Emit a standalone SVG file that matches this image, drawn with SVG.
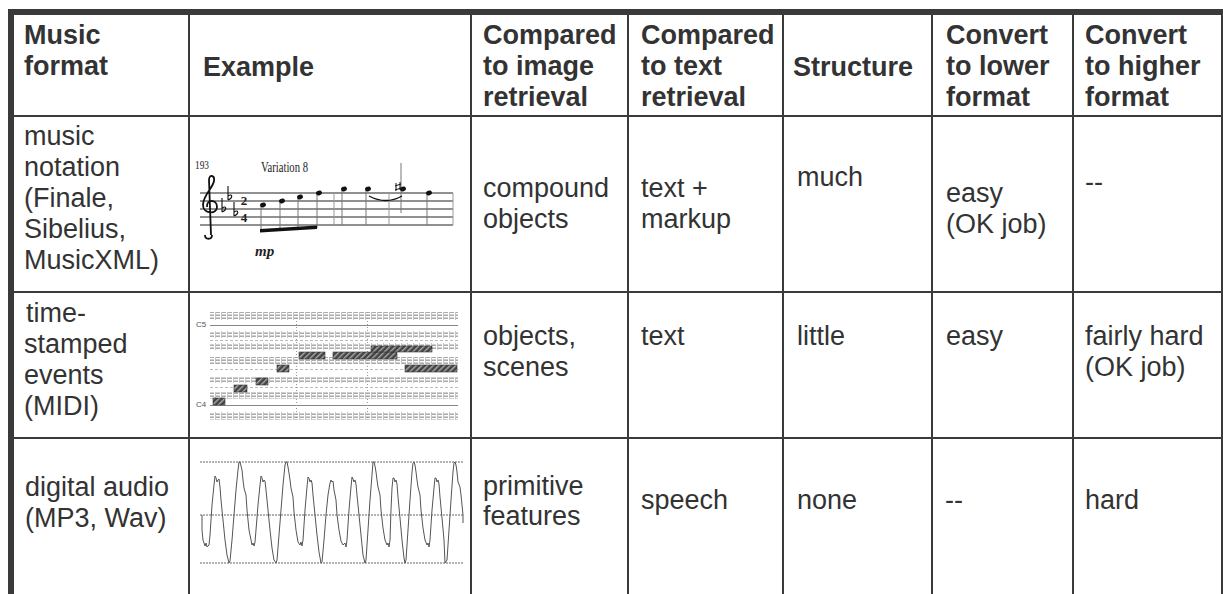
<svg xmlns="http://www.w3.org/2000/svg" width="1223" height="594" viewBox="0 0 1223 594">
  <defs>
    <style>
      .h { font-family: "Liberation Sans", Arial, sans-serif; font-size: 27px; font-weight: bold; fill: #333; }
      .t { font-family: "Liberation Sans", Arial, sans-serif; font-size: 27px; fill: #333; }
      .rule { fill: #3a3a3a; }
      .serif { font-family: "Liberation Serif", "Times New Roman", serif; fill: #222; }
      .staff { stroke: #222; stroke-width: 1; }
      .stem { stroke: #777; stroke-width: 1; }
      .bar { stroke: #999; stroke-width: 1; }
      .head { fill: #111; }
      .lbl { font-family: "Liberation Sans", Arial, sans-serif; font-size: 8px; fill: #555; }
      .dots { stroke: #666; stroke-width: 1; stroke-dasharray: 2 1; }
    </style>
    <!-- light dotted texture used for piano-roll rows -->
    <pattern id="roll" width="6" height="3" patternUnits="userSpaceOnUse">
      <rect x="0" y="0" width="4" height="1" fill="#aaa"/>
      <rect x="5" y="0" width="1" height="3" fill="#c4c4c4"/>
      <rect x="0" y="2" width="4" height="1" fill="#d0d0d0"/>
    </pattern>
    <!-- hatched fill for MIDI note events -->
    <pattern id="hatch" width="4" height="4" patternUnits="userSpaceOnUse" patternTransform="rotate(45)">
      <rect width="4" height="4" fill="#444"/>
      <rect width="1.4" height="4" fill="#aaa"/>
    </pattern>
  </defs>

  <rect width="1223" height="594" fill="#fff"/>

  <!-- table rules -->
  <g id="grid">
    <rect class="rule" x="8" y="9" width="1215" height="6"/>
    <rect class="rule" x="8" y="9" width="6" height="585"/>
    <rect class="rule" x="188" y="15" width="2" height="579"/>
    <rect class="rule" x="470" y="15" width="2" height="579"/>
    <rect class="rule" x="627" y="15" width="2" height="579"/>
    <rect class="rule" x="782" y="15" width="2" height="579"/>
    <rect class="rule" x="931" y="15" width="2" height="579"/>
    <rect class="rule" x="1072" y="15" width="2" height="579"/>
    <rect class="rule" x="1221" y="15" width="2" height="579"/>
    <rect class="rule" x="14" y="115" width="1209" height="2"/>
    <rect class="rule" x="14" y="291" width="1209" height="2"/>
    <rect class="rule" x="14" y="437" width="1209" height="2"/>
  </g>

  <!-- header row -->
  <g id="header">
    <text class="h" x="24" y="44">Music</text>
    <text class="h" x="24" y="75">format</text>
    <text class="h" x="203" y="76">Example</text>
    <text class="h" x="483" y="44">Compared</text>
    <text class="h" x="483" y="75">to image</text>
    <text class="h" x="483" y="106">retrieval</text>
    <text class="h" x="641" y="44">Compared</text>
    <text class="h" x="641" y="75">to text</text>
    <text class="h" x="641" y="106">retrieval</text>
    <text class="h" x="793" y="76">Structure</text>
    <text class="h" x="946" y="44">Convert</text>
    <text class="h" x="946" y="75">to lower</text>
    <text class="h" x="946" y="106">format</text>
    <text class="h" x="1085" y="44">Convert</text>
    <text class="h" x="1085" y="75">to higher</text>
    <text class="h" x="1085" y="106">format</text>
  </g>

  <!-- row: music notation -->
  <g id="row-notation">
    <text class="t" x="24" y="145">music</text>
    <text class="t" x="24" y="176">notation</text>
    <text class="t" x="24" y="207">(Finale,</text>
    <text class="t" x="24" y="238">Sibelius,</text>
    <text class="t" x="24" y="269">MusicXML)</text>
    <text class="t" x="483" y="197">compound</text>
    <text class="t" x="483" y="228">objects</text>
    <text class="t" x="641" y="197">text +</text>
    <text class="t" x="641" y="228">markup</text>
    <text class="t" x="797" y="186">much</text>
    <text class="t" x="946" y="202">easy</text>
    <text class="t" x="946" y="233">(OK job)</text>
    <text class="t" x="1085" y="191">--</text>
  </g>

  <!-- score excerpt -->
  <g id="score">
    <text class="serif" x="195" y="169" font-size="12" textLength="14" lengthAdjust="spacingAndGlyphs">193</text>
    <text class="serif" x="261" y="172" font-size="14" textLength="47" lengthAdjust="spacingAndGlyphs">Variation 8</text>
    <g class="staff">
      <line x1="200" y1="193" x2="453" y2="193"/>
      <line x1="200" y1="201" x2="453" y2="201"/>
      <line x1="200" y1="209" x2="453" y2="209"/>
      <line x1="200" y1="217" x2="453" y2="217"/>
      <line x1="200" y1="225" x2="453" y2="225"/>
    </g>
    <!-- treble clef -->
    <path d="M212,235 C212,240 205,240 205,235 M211,235 L209,180 C209,174 215,175 214,181 C213,188 203,195 203,205 C203,214 217,215 217,207 C217,199 206,199 207,207" fill="none" stroke="#111" stroke-width="1.8"/>
    <!-- key signature -->
    <g fill="none" stroke="#111" stroke-width="1.1">
      <path d="M222,198 L222,212 M222,208 C227,205 227,210 222,212"/>
      <path d="M228,186 L228,200 M228,196 C233,193 233,198 228,200"/>
      <path d="M234,202 L234,216 M234,212 C239,209 239,214 234,216"/>
    </g>
    <text class="serif" x="244" y="205" font-size="13" font-weight="bold" text-anchor="middle">2</text>
    <text class="serif" x="244" y="222" font-size="13" font-weight="bold" text-anchor="middle">4</text>
    <!-- stems and beam -->
    <g class="stem">
      <line x1="261" y1="205" x2="261" y2="231"/>
      <line x1="280" y1="201" x2="280" y2="230"/>
      <line x1="298" y1="197" x2="298" y2="229"/>
      <line x1="317" y1="193" x2="317" y2="228"/>
      <line x1="342" y1="189" x2="342" y2="225"/>
      <line x1="366" y1="189" x2="366" y2="225"/>
      <line x1="401" y1="163" x2="401" y2="213"/>
      <line x1="427" y1="193" x2="427" y2="225"/>
    </g>
    <polygon points="260,229 317,225.5 317,229 260,232.5" fill="#111"/>
    <g class="bar">
      <line x1="334" y1="193" x2="334" y2="225"/>
      <line x1="389" y1="193" x2="389" y2="225"/>
      <line x1="453" y1="193" x2="453" y2="225"/>
    </g>
    <g class="head">
      <ellipse cx="263" cy="205" rx="3" ry="2.3" transform="rotate(-20 263 205)"/>
      <ellipse cx="282" cy="201" rx="3" ry="2.3" transform="rotate(-20 282 201)"/>
      <ellipse cx="300" cy="197" rx="3" ry="2.3" transform="rotate(-20 300 197)"/>
      <ellipse cx="319" cy="193" rx="3" ry="2.3" transform="rotate(-20 319 193)"/>
      <ellipse cx="344" cy="189" rx="3" ry="2.3" transform="rotate(-20 344 189)"/>
      <ellipse cx="368" cy="189" rx="3" ry="2.3" transform="rotate(-20 368 189)"/>
      <ellipse cx="403" cy="189" rx="3" ry="2.3" transform="rotate(-20 403 189)"/>
      <ellipse cx="429" cy="193" rx="3" ry="2.3" transform="rotate(-20 429 193)"/>
    </g>
    <path d="M369,196 Q386,205 402,196" fill="none" stroke="#111" stroke-width="1.4"/>
    <path d="M395,186 L401,184 M395,190 L401,188 M396,183 L396,191 M400,182 L400,190" stroke="#111" stroke-width="1"/>
    <text class="serif" x="255" y="256" font-size="15" font-weight="bold" font-style="italic">mp</text>
  </g>

  <!-- row: MIDI events -->
  <g id="row-midi">
    <text class="t" x="26" y="322">time-</text>
    <text class="t" x="24" y="353">stamped</text>
    <text class="t" x="24" y="384">events</text>
    <text class="t" x="24" y="415">(MIDI)</text>
    <text class="t" x="483" y="345">objects,</text>
    <text class="t" x="483" y="376">scenes</text>
    <text class="t" x="641" y="345">text</text>
    <text class="t" x="797" y="345">little</text>
    <text class="t" x="946" y="345">easy</text>
    <text class="t" x="1085" y="345">fairly hard</text>
    <text class="t" x="1085" y="376">(OK job)</text>
  </g>

  <!-- piano roll -->
  <g id="pianoroll">
    <text class="lbl" x="196" y="327">C5</text>
    <text class="lbl" x="196" y="407">C4</text>
    <g fill="url(#roll)">
      <rect x="210" y="312" width="248" height="8"/>
      <rect x="210" y="331" width="248" height="7"/>
      <rect x="210" y="343" width="248" height="7"/>
      <rect x="210" y="357" width="248" height="7"/>
      <rect x="210" y="377" width="248" height="6"/>
      <rect x="210" y="392" width="248" height="7"/>
      <rect x="210" y="412" width="248" height="8"/>
    </g>
    <g stroke="#bbb" stroke-width="1" stroke-dasharray="3 2">
      <line x1="210" y1="340.5" x2="458" y2="340.5"/>
      <line x1="210" y1="369.5" x2="458" y2="369.5"/>
      <line x1="210" y1="387.5" x2="458" y2="387.5"/>
    </g>
    <g stroke="#888" stroke-width="1">
      <line x1="210" y1="325.5" x2="458" y2="325.5"/>
      <line x1="210" y1="405.5" x2="458" y2="405.5"/>
    </g>
    <g stroke="#999" stroke-width="1" stroke-dasharray="1 2">
      <line x1="296.5" y1="312" x2="296.5" y2="420"/>
      <line x1="367.5" y1="312" x2="367.5" y2="420"/>
    </g>
    <g fill="url(#hatch)" stroke="#333" stroke-width="0.6">
      <rect x="213" y="398" width="12" height="7"/>
      <rect x="234" y="385" width="13" height="7"/>
      <rect x="256" y="378" width="12" height="7"/>
      <rect x="277" y="365" width="12" height="7"/>
      <rect x="299" y="352" width="26" height="7"/>
      <rect x="333" y="352" width="64" height="7"/>
      <rect x="371" y="346" width="61" height="6"/>
      <rect x="405" y="365" width="52" height="7"/>
    </g>
  </g>

  <!-- row: digital audio -->
  <g id="row-audio">
    <text class="t" x="25" y="496">digital audio</text>
    <text class="t" x="25" y="527">(MP3, Wav)</text>
    <text class="t" x="483" y="495">primitive</text>
    <text class="t" x="483" y="525">features</text>
    <text class="t" x="641" y="509">speech</text>
    <text class="t" x="797" y="509">none</text>
    <text class="t" x="945" y="509">--</text>
    <text class="t" x="1085" y="509">hard</text>
  </g>

  <!-- waveform -->
  <g id="waveform">
    <line class="dots" x1="200" y1="462" x2="463" y2="462"/>
    <line class="dots" x1="200" y1="515" x2="463" y2="515"/>
    <line class="dots" x1="200" y1="563" x2="463" y2="563"/>
    <polyline fill="none" stroke="#555" stroke-width="1" stroke-linejoin="round" points="202,515 202,530 203,540 205,546 206,543 207,547 209,545 210,535 212,505 214,485 215,476 216,478 217,482 218,480 219,479 220,487 221,500 223,520 225,540 227,555 229,563 230,561 232,540 234,515 236,490 238,470 239,462 240,462 241,466 242,470 243,480 244,488 246,495 247,510 249,530 251,540 252,545 253,543 254,546 255,542 256,530 258,505 260,485 261,476 262,478 263,482 264,480 265,481 266,490 268,510 270,530 272,548 274,560 276,563 277,560 279,535 281,510 283,485 285,465 286,462 287,462 288,467 289,473 290,480 291,488 293,497 294,512 296,530 298,542 300,545 301,542 302,546 303,540 305,510 307,487 308,477 309,478 310,482 311,480 312,483 313,495 315,515 317,535 319,552 321,563 322,562 324,540 326,515 328,495 330,483 331,480 332,482 333,481 334,490 336,500 337,515 339,530 341,541 343,545 345,543 346,547 347,540 349,510 351,487 352,477 353,479 354,482 355,480 356,484 357,495 359,515 361,535 363,555 365,563 366,560 368,530 370,500 372,475 373,462 374,462 375,466 376,472 377,480 378,487 380,495 381,510 383,528 385,540 387,545 388,543 389,547 390,540 391,510 392,488 393,478 394,478 395,482 396,480 397,484 398,497 400,518 402,540 404,558 405,563 406,560 408,530 410,500 412,472 413,463 414,462 415,465 416,472 417,480 418,487 420,495 421,510 423,528 425,540 427,545 428,543 429,547 430,540 432,510 434,488 435,478 436,478 437,482 438,480 439,484 440,497 442,518 444,540 445,563 447,560 449,530 451,500 453,472 454,463 455,462 456,465 457,472 458,482 460,487 461,495 462,505 463,515 463,523"/>
  </g>
</svg>
